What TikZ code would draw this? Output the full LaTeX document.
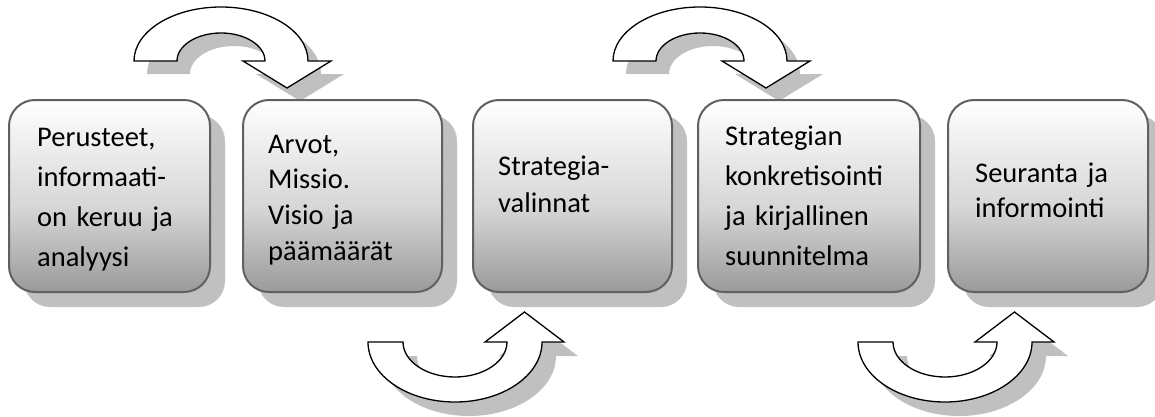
\documentclass[tikz,border=0pt]{standalone}
\usepackage{fontspec}
\setmainfont{Carlito}[WordSpace=0.85]
\usetikzlibrary{shadows}
\definecolor{boxline}{HTML}{606060}
\definecolor{shadowgray}{HTML}{C0C0C0}
\definecolor{boxmid}{HTML}{D6D6D6}
\definecolor{boxlow}{HTML}{9A9A9A}
\pgfdeclareverticalshading{boxshade}{100bp}{color(0bp)=(boxlow); color(25bp)=(boxlow); color(47bp)=(boxmid); color(75bp)=(white); color(100bp)=(white)}
\begin{document}
\begin{tikzpicture}[x=1pt,y=1pt,
  stepbox/.style={rectangle, draw=boxline, line width=2pt, rounded corners=26pt,
    shade, shading=boxshade, minimum height=192pt, inner sep=0pt,
    drop shadow={shadow xshift=15pt, shadow yshift=-15pt, fill=shadowgray, opacity=1}},
  steptext/.style={anchor=base west, inner sep=0pt, text width=205pt, align=left},
  arrowbody/.style={draw=black, line width=1.3pt, fill=white},
  arrowshadow/.style={fill=shadowgray},
  pics/toparrow/.style={code={
    \path[pic actions] (-87,0) -- (-44,0)
      arc[start angle=180, end angle=0, x radius=44, y radius=28]
      -- (22,0) -- (66,-27) -- (110,0) -- (87,0)
      arc[start angle=0, end angle=180, x radius=87, y radius=54] -- cycle;
  }},
  pics/bottomarrow/.style={code={
    \path[pic actions] (-87,0) -- (-52,0)
      arc[start angle=180, end angle=360, x radius=52, y radius=35]
      -- (30,0) -- (69.5,30) -- (109,0) -- (87,0)
      arc[start angle=360, end angle=180, x radius=87, y radius=60] -- cycle;
  }}]
\useasboundingbox (0,0) rectangle (1155,416);

% curved arrows between the steps, each with its shadow
\pic[arrowshadow] at (234,342) {toparrow};
\pic[arrowbody]   at (221,355) {toparrow};
\pic[arrowshadow] at (713,342) {toparrow};
\pic[arrowbody]   at (700,355) {toparrow};
\pic[arrowshadow] at (469,60) {bottomarrow};
\pic[arrowbody]   at (455,74) {bottomarrow};
\pic[arrowshadow] at (959,60) {bottomarrow};
\pic[arrowbody]   at (945,74) {bottomarrow};

% process steps
\node[stepbox, minimum width=201pt] (b1) at (109.5,220) {};
\node[stepbox, minimum width=199pt] (b2) at (342.5,220) {};
\node[stepbox, minimum width=199pt] (b3) at (572.5,220) {};
\node[stepbox, minimum width=222pt] (b4) at (809,220) {};
\node[stepbox, minimum width=200pt] (b5) at (1048,220) {};

% step texts
\node[steptext, font=\fontsize{28.5}{40.3}\selectfont] (t1) at (37,270)
  {Perusteet,\\informaati-\\on keruu ja\\analyysi};
\node[steptext, font=\fontsize{28.5}{35.7}\selectfont] (t2) at (268,263)
  {Arvot,\\Missio.\\Visio ja\\päämäärät};
\node[steptext, font=\fontsize{28.5}{37}\selectfont] (t3) at (498,241)
  {Strategia-\\valinnat};
\node[steptext, font=\fontsize{28.5}{40.3}\selectfont] (t4) at (725,271)
  {Strategian\\konkretisointi\\ja kirjallinen\\suunnitelma};
\node[steptext, font=\fontsize{28.5}{35}\selectfont] (t5) at (975,234)
  {Seuranta ja\\informointi};
\end{tikzpicture}
\end{document}
